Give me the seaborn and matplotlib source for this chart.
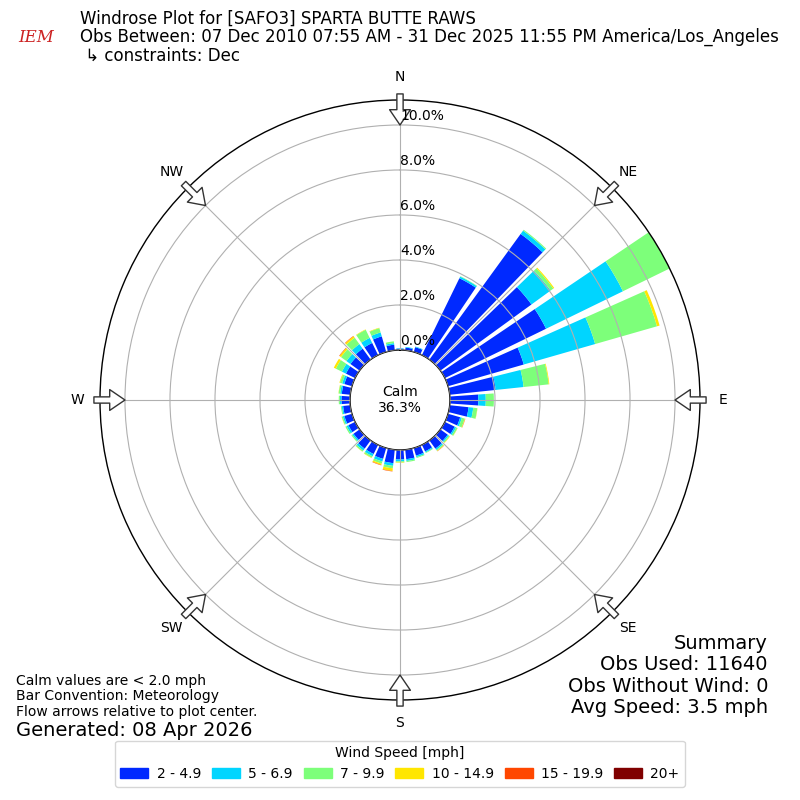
import numpy as np
import matplotlib
matplotlib.use("Agg")
import matplotlib.pyplot as plt
from matplotlib.patches import Rectangle
import seaborn as sns

# wind direction bins (deg, meteorological) and frequency (%) per speed class
directions = list(range(0, 360, 10))
speed_labels = ["2 - 4.9", "5 - 6.9", "7 - 9.9", "10 - 14.9", "15 - 19.9", "20+"]

spd_2_5 = [0.06, 0.12, 0.22, 3.80, 6.90, 5.00, 5.00, 3.50, 2.05, 1.26, 0.84, 0.56,
           0.48, 0.40, 0.45, 0.32, 0.35, 0.42, 0.42, 0.60, 0.50, 0.45, 0.45, 0.33,
           0.33, 0.35, 0.32, 0.38, 0.38, 0.35, 0.45, 0.50, 0.60, 0.60, 0.72, 0.25]
spd_5_7 = [0.02, 0.03, 0.03, 0.08, 0.18, 1.05, 3.80, 3.30, 1.25, 0.33, 0.21, 0.08,
           0.07, 0.06, 0.07, 0.05, 0.07, 0.08, 0.08, 0.12, 0.12, 0.11, 0.10, 0.07,
           0.09, 0.07, 0.06, 0.07, 0.07, 0.10, 0.20, 0.22, 0.25, 0.25, 0.18, 0.07]
spd_7_10 = [0.00, 0.00, 0.00, 0.02, 0.05, 0.15, 2.30, 2.86, 1.12, 0.36, 0.18, 0.13,
            0.07, 0.05, 0.05, 0.03, 0.04, 0.05, 0.05, 0.11, 0.10, 0.07, 0.06, 0.05,
            0.06, 0.05, 0.04, 0.05, 0.07, 0.10, 0.30, 0.30, 0.35, 0.40, 0.20, 0.08]
spd_10_15 = [0.00, 0.00, 0.00, 0.00, 0.00, 0.05, 0.00, 0.12, 0.03, 0.00, 0.01, 0.02,
             0.01, 0.02, 0.02, 0.00, 0.00, 0.00, 0.02, 0.12, 0.06, 0.02, 0.01, 0.00,
             0.00, 0.01, 0.00, 0.00, 0.01, 0.03, 0.10, 0.08, 0.08, 0.02, 0.02, 0.00]
spd_15_20 = [0.00, 0.00, 0.00, 0.00, 0.00, 0.00, 0.00, 0.00, 0.00, 0.00, 0.00, 0.01,
             0.00, 0.00, 0.01, 0.00, 0.00, 0.00, 0.00, 0.02, 0.02, 0.00, 0.00, 0.00,
             0.00, 0.00, 0.00, 0.00, 0.00, 0.00, 0.00, 0.02, 0.02, 0.00, 0.00, 0.00]
spd_20p = [0.0] * 36

calm_pct = 36.3
rticks = [0, 2, 4, 6, 8, 10]
compass = ["N", "NE", "E", "SE", "S", "SW", "W", "NW"]

sns.set_style("white")
plt.rcParams["font.family"] = ["DejaVu Sans"]
plt.rcParams["text.color"] = "black"

colors = sns.color_palette(list(plt.get_cmap("jet")(np.linspace(0, 1, 7))[1:]))

fig = plt.figure(figsize=(8, 8), dpi=100)
ax = fig.add_axes([0.125, 0.125, 0.75, 0.75], projection="polar")
ax.set_theta_zero_location("N")
ax.set_theta_direction(-1)

rmax = 11.11
hole = rmax / 5.0
ax.set_rorigin(-hole)
ax.set_ylim(0, rmax)

theta = np.radians(directions)
width = np.radians(8)
bottom = np.zeros(36)
for vals, col, lab in zip([spd_2_5, spd_5_7, spd_7_10, spd_10_15, spd_15_20, spd_20p],
                          colors, speed_labels):
    vals = np.array(vals)
    ax.bar(theta, vals, width=width, bottom=bottom, color=col, linewidth=0,
           label=lab, zorder=1)
    bottom = bottom + vals

ax.set_axisbelow(False)
ax.set_yticks(rticks)
ax.set_yticklabels([])
ax.set_xticks(np.radians(np.arange(0, 360, 45)))
ax.set_xticklabels([])
ax.grid(True, color="#b0b0b0", linewidth=0.8, zorder=2)
ax.spines["polar"].set_color("black")
ax.spines["polar"].set_linewidth(1.0)
ax.spines["inner"].set_color("black")
ax.spines["inner"].set_linewidth(1.0)

for v in rticks:
    ax.text(0, v + 0.08, f"{v:.1f}%", ha="left", va="bottom", fontsize=10, zorder=5)

for i, lab in enumerate(compass):
    t = np.radians(i * 45)
    ax.text(t, 12.13, lab, ha="center", va="center", fontsize=10, clip_on=False)
    ax.annotate("", xy=(t, 10.0), xytext=(t, 11.38), xycoords="data",
                annotation_clip=False,
                arrowprops=dict(arrowstyle="simple,head_length=1.1,head_width=1.5,tail_width=0.45",
                                fc="white", ec="#333333", lw=1.0,
                                shrinkA=0, shrinkB=0))

ax.text(0.5, 0.5, f"Calm\n{calm_pct:.1f}%", transform=ax.transAxes,
        ha="center", va="center", fontsize=10)

# header
fig.text(0.10, 0.988, "Windrose Plot for [SAFO3] SPARTA BUTTE RAWS\n"
         "Obs Between: 07 Dec 2010 07:55 AM - 31 Dec 2025 11:55 PM America/Los_Angeles\n"
         " \u21b3 constraints: Dec", ha="left", va="top", fontsize=12, linespacing=1.04)
fig.text(0.045, 0.953, "IEM", ha="center", va="center", fontsize=12, color="#cc2222",
         family="DejaVu Serif", style="italic")

# footer texts
fig.text(0.02, 0.158, "Calm values are < 2.0 mph\nBar Convention: Meteorology\n"
         "Flow arrows relative to plot center.", ha="left", va="top", fontsize=10,
         linespacing=1.15)
fig.text(0.02, 0.087, "Generated: 08 Apr 2026", ha="left", va="center", fontsize=14)
fig.text(0.96, 0.208, "Summary\nObs Used: 11640\nObs Without Wind: 0\nAvg Speed: 3.5 mph",
         ha="right", va="top", fontsize=14, linespacing=1.17)

handles = [Rectangle((0, 0), 1, 1, color=c) for c in colors]
fig.legend(handles, speed_labels, loc="lower center", bbox_to_anchor=(0.5, 0.008),
           ncol=6, title="Wind Speed [mph]", fontsize=10, title_fontsize=10,
           columnspacing=0.8, handletextpad=0.6,
           frameon=True, edgecolor="#cccccc")

fig.savefig("out.png", dpi=100)
